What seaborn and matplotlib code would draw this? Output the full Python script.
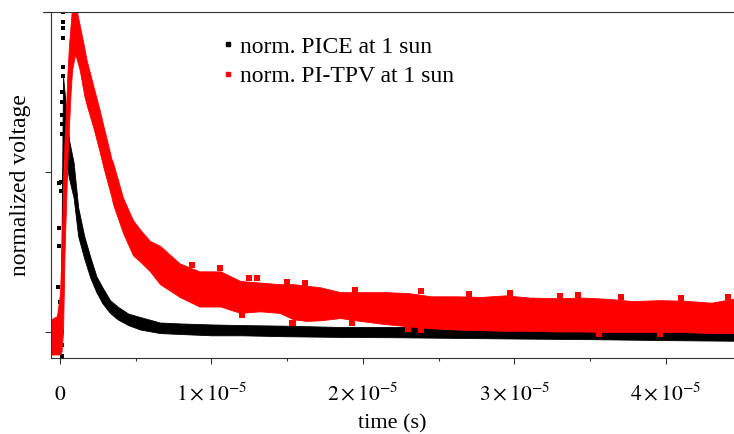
import numpy as np
import pandas as pd
import matplotlib
matplotlib.use("Agg")
import matplotlib.pyplot as plt
from matplotlib.lines import Line2D
import seaborn as sns

# traces: time in microseconds, lower / upper edge of the noisy band
pice_t = [-0.6, 0.05, 0.2, 0.4, 0.6, 0.9, 1.2, 1.6, 2.0, 2.4, 2.8, 3.3, 3.8, 4.5, 5.3,
          6.6, 8.0, 10.0, 12.0, 15.0, 18.5, 22.0, 26.0, 30.0, 35.0, 40.0, 44.5]
pice_lo = [-0.02, -0.02, 0.55, 0.53, 0.48, 0.42, 0.30, 0.23, 0.17, 0.125, 0.09, 0.06, 0.04,
           0.022, 0.008, -0.003, -0.006, -0.01, -0.01, -0.013, -0.015, -0.016, -0.018,
           -0.02, -0.022, -0.025, -0.027]
pice_hi = [0.02, 0.02, 0.80, 0.70, 0.60, 0.53, 0.39, 0.30, 0.235, 0.175, 0.14, 0.10, 0.08,
           0.058, 0.047, 0.03, 0.027, 0.024, 0.022, 0.02, 0.016, 0.016, 0.015, 0.013,
           0.012, 0.014, 0.016]

# sparse points of the PICE rise (t in us, value)
rise_t = [0.22, 0.22, 0.21, 0.20, 0.18, 0.18, 0.12, 0.12, 0.12, 0.12, 0.11, 0.08, 0.07,
          -0.08, -0.06, -0.06, -0.10, 0.0, 0.10, 0.10, 0.10]
rise_v = [1.0, 0.97, 0.95, 0.92, 0.83, 0.80, 0.75, 0.72, 0.68, 0.65, 0.62, 0.47, 0.44,
          0.465, 0.325, 0.27, 0.14, 0.094, 0.0, -0.04, -0.075]

tpv_t = [-0.6, -0.2, 0.0, 0.1, 0.2, 0.3, 0.4, 0.5, 0.6, 0.7, 0.8, 1.0, 1.3, 1.6, 1.76,
         2.2, 2.64, 2.84, 3.41, 3.5, 4.16, 4.82, 5.3, 5.94, 6.6, 7.9, 9.2, 10.6, 11.9,
         13.2, 14.5, 15.4, 16.3, 17.2, 18.5, 19.8, 21.5, 23.0, 24.5, 26.2, 27.8, 29.4,
         31.0, 32.9, 34.5, 36.2, 37.8, 39.6, 41.3, 43.0, 44.5]
tpv_lo = [-0.07, -0.07, -0.07, -0.06, 0.0, 0.25, 0.40, 0.55, 0.65, 0.75, 0.82, 0.87, 0.82,
          0.74, 0.71, 0.64, 0.56, 0.52, 0.42, 0.40, 0.31, 0.24, 0.22, 0.19, 0.15, 0.11,
          0.08, 0.08, 0.06, 0.065, 0.06, 0.04, 0.035, 0.037, 0.044, 0.035, 0.025, 0.018,
          0.012, 0.008, 0.006, 0.004, 0.004, 0.002, 0.002, 0.0, 0.0, 0.0, 0.0, -0.003, -0.003]
tpv_hi = [0.04, 0.05, 0.12, 0.25, 0.45, 0.60, 0.70, 0.82, 0.90, 0.96, 1.02, 1.03, 0.96,
          0.89, 0.85, 0.77, 0.69, 0.65, 0.54, 0.53, 0.42, 0.35, 0.32, 0.285, 0.27, 0.215,
          0.19, 0.19, 0.16, 0.155, 0.15, 0.15, 0.145, 0.14, 0.125, 0.125, 0.125, 0.122,
          0.112, 0.112, 0.11, 0.115, 0.108, 0.106, 0.108, 0.104, 0.097, 0.10, 0.098, 0.092, 0.105]

# single PI-TPV points sticking out of the band edges (t in us, value)
tpv_out_t = [8.7, 10.56, 12.5, 12.98, 15.0, 16.2, 19.5, 23.8, 27.0, 29.7, 33.0, 34.2, 37.0,
             41.0, 44.1, 12.0, 15.3, 15.4, 19.3, 23.0, 23.8, 35.6, 39.6]
tpv_out_v = [0.21, 0.2, 0.168, 0.17, 0.158, 0.153, 0.133, 0.128, 0.12, 0.122, 0.114, 0.116,
             0.11, 0.106, 0.11, 0.052, 0.03, 0.03, 0.03, 0.01, 0.008, -0.005, -0.007]

xticks = [0, 1e-5, 2e-5, 3e-5, 4e-5]
xtick_labels = [r"$0$", r"$1\times10^{-5}$", r"$2\times10^{-5}$", r"$3\times10^{-5}$", r"$4\times10^{-5}$"]
minor_xticks = [0.5e-5, 1.5e-5, 2.5e-5, 3.5e-5]
yticks = [0, 0.5, 1.0]

us = 1e-6
pice = pd.DataFrame({"t": np.array(pice_t) * us, "lo": pice_lo, "hi": pice_hi})
tpv = pd.DataFrame({"t": np.array(tpv_t) * us, "lo": tpv_lo, "hi": tpv_hi})
rise = pd.DataFrame({"t": np.array(rise_t) * us, "v": rise_v})
tpv_out = pd.DataFrame({"t": np.array(tpv_out_t) * us, "v": tpv_out_v})

sns.set_theme(style="ticks")
plt.rcParams['font.family'] = ['Liberation Serif', 'DejaVu Serif']
plt.rcParams['mathtext.fontset'] = 'stix'
plt.rcParams['text.color'] = 'black'

fig = plt.figure(figsize=(7.34, 4.34), dpi=100)
ax = fig.add_axes([51 / 734, 1 - 357.7 / 434, 683 / 734, 345.4 / 434])

ax.fill_between(pice.t, pice.lo, pice.hi, color="black", linewidth=0.6, edgecolor="black")
sns.scatterplot(data=rise, x="t", y="v", ax=ax, color="black", marker="s", s=9, linewidth=0)
ax.fill_between(tpv.t, tpv.lo, tpv.hi, color="red", linewidth=0.6, edgecolor="red")
sns.scatterplot(data=tpv_out, x="t", y="v", ax=ax, color="red", marker="s", s=16, linewidth=0)

ax.set_xlim(-5.94e-7, 4.449e-5)
ax.set_ylim(-0.08, 0.999)

ax.set_xticks(xticks)
ax.set_xticklabels(xtick_labels)
ax.set_xticks(minor_xticks, minor=True)
ax.set_yticks(yticks)
ax.set_yticklabels([])
ax.tick_params(axis="both", which="major", length=4, width=0.8, color="#333333",
               labelsize=15.5, labelcolor="black", direction="out")
ax.tick_params(axis="x", which="major", pad=26.5)
ax.tick_params(axis="x", which="minor", length=2.5, width=0.8, color="#333333", direction="out")
plt.setp(ax.get_xticklabels(), va="baseline")

for side in ["left", "bottom", "top"]:
    ax.spines[side].set_color("#333333")
    ax.spines[side].set_linewidth(0.8)
ax.spines["right"].set_visible(False)
# top frame line runs a little past the left axis
ax.add_line(Line2D([-0.012, 0], [1, 1], transform=ax.transAxes, color="#333333",
                   linewidth=0.8, clip_on=False))

ax.set_xlabel("time (s)", fontsize=16, color="black", va="top")
ax.xaxis.set_label_coords(0.5, -0.165)
ax.set_ylabel("normalized voltage", fontsize=17, color="black")
ax.yaxis.set_label_coords(-0.030, 0.5)

handles = [Line2D([], [], color="black", marker="s", markersize=3.5, linestyle=""),
           Line2D([], [], color="red", marker="s", markersize=3.5, linestyle="")]
leg = ax.legend(handles, ["norm. PICE at 1 sun", "norm. PI-TPV at 1 sun"], loc="upper left",
                bbox_to_anchor=(0.249, 0.931), frameon=False, fontsize=17, handlelength=0.6,
                handletextpad=0.2, labelspacing=0.33, borderaxespad=0, borderpad=0)
for txt in leg.get_texts():
    txt.set_color("black")

fig.savefig("out.png", dpi=100)
